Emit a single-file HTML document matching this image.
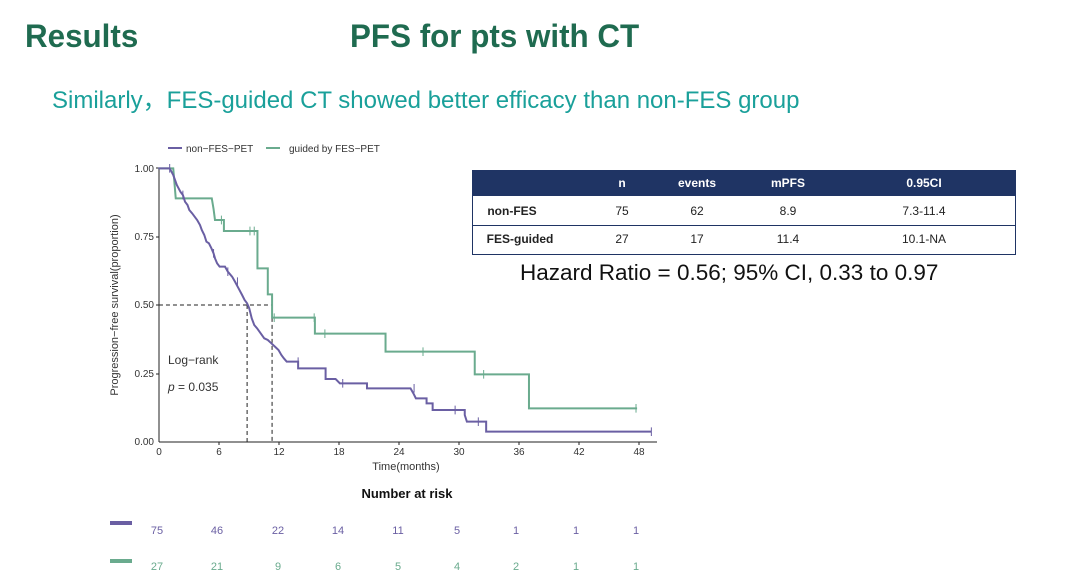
<!DOCTYPE html>
<html><head><meta charset="utf-8"><style>
body{margin:0;width:1080px;height:588px;background:#fff;position:relative;overflow:hidden;font-family:"Liberation Sans",sans-serif}
.a{position:absolute;white-space:nowrap}
</style></head><body>
<div class="a" style="left:25px;top:18px;font-size:32px;font-weight:bold;color:#1f6b50;transform:scaleX(0.98);transform-origin:left">Results</div>
<div class="a" style="left:350px;top:18px;font-size:32px;font-weight:bold;color:#1f6b50;transform:scaleX(0.98);transform-origin:left">PFS for pts with CT</div>
<div class="a" style="left:52px;top:80px;font-size:24px;color:#1aa09a">Similarly，FES-guided CT showed better efficacy than non-FES group</div>
<svg class="a" style="left:0;top:0" width="1080" height="588">
<g font-family="Liberation Sans" font-size="10" fill="#333">
<line x1="168" y1="148" x2="182" y2="148" stroke="#6a5fa3" stroke-width="2"/><text x="186" y="152">non−FES−PET</text>
<line x1="266" y1="148" x2="280" y2="148" stroke="#6aab8e" stroke-width="2"/><text x="289" y="152">guided by FES−PET</text>
<line x1="159" y1="168" x2="159" y2="442" stroke="#222"/>
<line x1="159" y1="442" x2="657" y2="442" stroke="#222"/>
<g text-anchor="end"><text x="154" y="172">1.00</text><text x="154" y="240">0.75</text><text x="154" y="308">0.50</text><text x="154" y="377">0.25</text><text x="154" y="445">0.00</text></g>
<g stroke="#222"><line x1="156" y1="168" x2="159" y2="168"/><line x1="156" y1="237" x2="159" y2="237"/><line x1="156" y1="305" x2="159" y2="305"/><line x1="156" y1="374" x2="159" y2="374"/>
<line x1="219" y1="442" x2="219" y2="445"/><line x1="279" y1="442" x2="279" y2="445"/><line x1="339" y1="442" x2="339" y2="445"/><line x1="399" y1="442" x2="399" y2="445"/><line x1="459" y1="442" x2="459" y2="445"/><line x1="519" y1="442" x2="519" y2="445"/><line x1="579" y1="442" x2="579" y2="445"/><line x1="639" y1="442" x2="639" y2="445"/></g>
<g text-anchor="middle"><text x="159" y="455">0</text><text x="219" y="455">6</text><text x="279" y="455">12</text><text x="339" y="455">18</text><text x="399" y="455">24</text><text x="459" y="455">30</text><text x="519" y="455">36</text><text x="579" y="455">42</text><text x="639" y="455">48</text>
<text x="406" y="470" font-size="11">Time(months)</text></g>
<text transform="translate(118,305) rotate(-90)" text-anchor="middle" font-size="11">Progression−free survival(proportion)</text>
<text x="168" y="364" font-size="12">Log−rank</text>
<text x="168" y="391" font-size="12"><tspan font-style="italic">p</tspan> = 0.035</text>
</g>
<g transform="translate(100.1,135) scale(0.3568,0.33333)" fill="none">
<path vector-effect="non-scaling-stroke" stroke="#222" stroke-dasharray="4,3" d="M165 510H482V920M412 510V920"/>
<path vector-effect="non-scaling-stroke" stroke="#6aab8e" stroke-width="2" d="M163 100H205L212 190H313L318 222L322 255H347V288H441V400H470V478H482V548H602V596H800V650H1050V718H1202V820H1505"/>
<path vector-effect="non-scaling-stroke" stroke="#6a5fa3" stroke-width="2" d="M163 100H195L200 110L205 120L210 135L215 150L220 160L225 170L232 180L238 200L245 210L250 225L258 235L265 245L272 255L280 270L285 285L292 300L298 320L305 325L312 340L318 355L322 370L328 385L335 395H350L358 410L370 425L378 440L388 460L398 480L405 495L412 505L418 520L425 550L432 570L440 580L450 595L460 610L470 615L480 625L490 635L500 645L508 660L515 670L523 680H555V700H632V732H660L672 745H748V760H870L878 775L885 790H915V805H932V825H1022V840L1028 860H1082V890H1545"/>
<path vector-effect="non-scaling-stroke" stroke="#6aab8e" d="M340 242V268M420 275V301M432 275V301M488 535V561M600 535V561M630 583V609M905 637V663M1075 705V731M1502 807V833"/>
<path vector-effect="non-scaling-stroke" stroke="#6a5fa3" d="M195 87V113M232 167V193M318 342V368M358 397V423M385 427V453M555 667V693M680 732V758M880 747V773M995 812V838M1060 847V873M1545 877V903"/>
</g>
<rect x="472.5" y="170.5" width="543" height="84" fill="#fff" stroke="#1f3464"/>
<rect x="472" y="170" width="544" height="26" fill="#1f3464"/>
<line x1="472" y1="225.5" x2="1016" y2="225.5" stroke="#1f3464"/>
<g font-family="Liberation Sans" font-size="12" text-anchor="middle">
<g fill="#fff" font-weight="bold"><text x="622" y="187">n</text><text x="697" y="187">events</text><text x="788" y="187">mPFS</text><text x="924" y="187">0.95CI</text></g>
<g fill="#222"><text x="512" y="215" font-weight="bold">non-FES</text><text x="622" y="215">75</text><text x="697" y="215">62</text><text x="788" y="215">8.9</text><text x="924" y="215">7.3-11.4</text>
<text x="520" y="243" font-weight="bold">FES-guided</text><text x="622" y="243">27</text><text x="697" y="243">17</text><text x="788" y="243">11.4</text><text x="924" y="243">10.1-NA</text></g>
</g>
<text x="520" y="280" font-family="Liberation Sans" font-size="22.5" fill="#111">Hazard Ratio = 0.56; 95% CI, 0.33 to 0.97</text>
<text x="407" y="498" font-family="Liberation Sans" font-size="13" font-weight="bold" text-anchor="middle" fill="#111">Number at risk</text>
<rect x="110" y="521" width="22" height="4" fill="#6a5fa3"/>
<rect x="110" y="559" width="22" height="4" fill="#6aab8e"/>
<g font-family="Liberation Sans" font-size="11" text-anchor="middle">
<g fill="#6a5fa3"><text x="157" y="534">75</text><text x="217" y="534">46</text><text x="278" y="534">22</text><text x="338" y="534">14</text><text x="398" y="534">11</text><text x="457" y="534">5</text><text x="516" y="534">1</text><text x="576" y="534">1</text><text x="636" y="534">1</text></g>
<g fill="#6aab8e"><text x="157" y="570">27</text><text x="217" y="570">21</text><text x="278" y="570">9</text><text x="338" y="570">6</text><text x="398" y="570">5</text><text x="457" y="570">4</text><text x="516" y="570">2</text><text x="576" y="570">1</text><text x="636" y="570">1</text></g>
</g>
</svg>
</body></html>
